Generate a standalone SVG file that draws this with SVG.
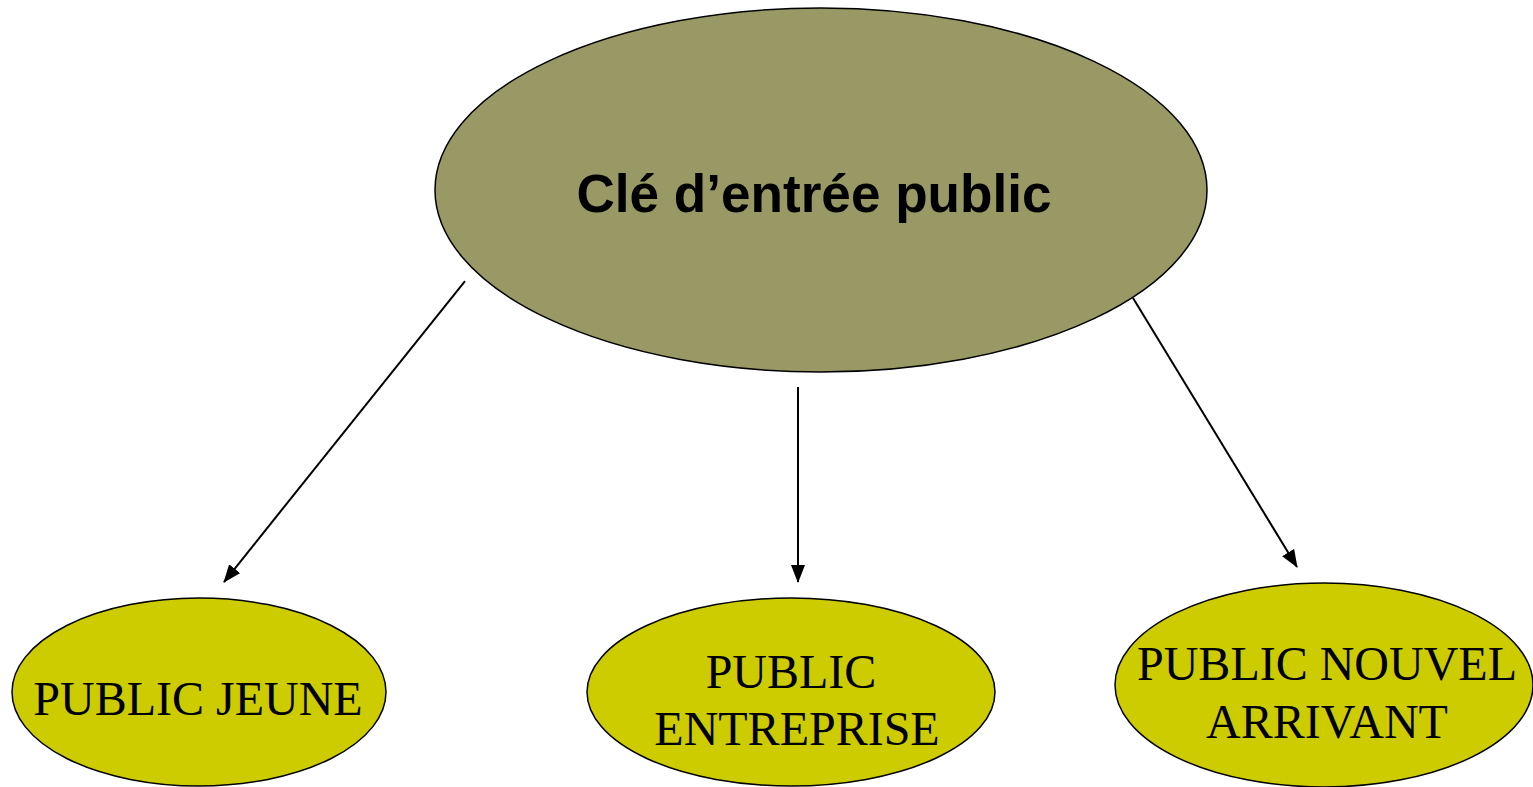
<svg xmlns="http://www.w3.org/2000/svg" width="1533" height="787" viewBox="0 0 1533 787">
<style>
.main{fill:#999966;stroke:#000;stroke-width:1.5}
.sub{fill:#cccc00;stroke:#000;stroke-width:1.5}
.t1{font-family:"Liberation Sans",Arial,sans-serif;font-weight:bold;font-size:54px;fill:#000}
.t2{font-family:"Liberation Serif","Times New Roman",serif;font-size:48px;fill:#000}
.conn{stroke:#000;stroke-width:2;fill:none}
</style>
<defs>
<marker id="ah" markerWidth="18" markerHeight="14" refX="17" refY="7" orient="auto" markerUnits="userSpaceOnUse">
<path d="M0,0 L18,7 L0,14 Z" fill="#000"/>
</marker>
</defs>
<rect width="1533" height="787" fill="#fff"/>
<g id="connectors">
<line class="conn" x1="465" y1="281" x2="224" y2="582" marker-end="url(#ah)"/>
<line class="conn" x1="798" y1="387" x2="798" y2="582" marker-end="url(#ah)"/>
<line class="conn" x1="1133" y1="298" x2="1297" y2="567" marker-end="url(#ah)"/>
</g>
<g id="root">
<ellipse class="main" cx="821" cy="190" rx="386" ry="182"/>
<text class="t1" x="814" y="212" text-anchor="middle" textLength="475" lengthAdjust="spacingAndGlyphs">Clé d’entrée public</text>
</g>
<g id="jeune">
<ellipse class="sub" cx="199" cy="692" rx="187" ry="94"/>
<text class="t2" x="198" y="715" text-anchor="middle">PUBLIC JEUNE</text>
</g>
<g id="entreprise">
<ellipse class="sub" cx="791" cy="692" rx="204" ry="94"/>
<text class="t2" x="791" y="688" text-anchor="middle">PUBLIC</text>
<text class="t2" x="797" y="745" text-anchor="middle">ENTREPRISE</text>
</g>
<g id="nouvel">
<ellipse class="sub" cx="1324" cy="685" rx="209" ry="102"/>
<text class="t2" x="1327" y="680" text-anchor="middle">PUBLIC NOUVEL</text>
<text class="t2" x="1327" y="738" text-anchor="middle">ARRIVANT</text>
</g>
</svg>
